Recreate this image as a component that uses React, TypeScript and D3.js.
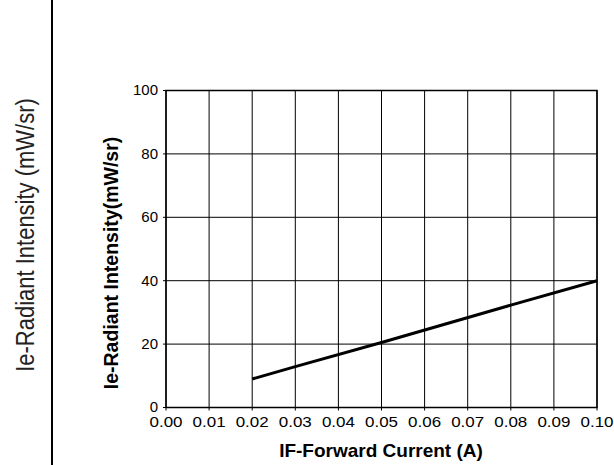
import React from "react";
import * as d3 from "d3";

const xTicks = [0, 0.01, 0.02, 0.03, 0.04, 0.05, 0.06, 0.07, 0.08, 0.09, 0.1];
const yTicks = [0, 20, 40, 60, 80, 100];
const currentA = [0.02, 0.03, 0.05, 0.08, 0.1];
const intensity = [9.0, 12.9, 20.5, 32.3, 40.0];

const W = 614;
const H = 465;
const left = 166;
const right = 597;
const top = 90.5;
const bottom = 407.5;

export default function App() {
  const x = d3.scaleLinear().domain([0, 0.1]).range([left, right]);
  const y = d3.scaleLinear().domain([0, 100]).range([bottom, top]);
  const pts = currentA.map((c, i) => [c, intensity[i]] as [number, number]);
  const line = d3
    .line<[number, number]>()
    .x((d) => x(d[0]))
    .y((d) => y(d[1]))(pts) as string;
  const font = "'Liberation Sans', Arial, Helvetica, sans-serif";
  return (
    <svg
      width={W}
      height={H}
      style={{ position: "absolute", left: 0, top: 0, background: "#fff" }}
      fontFamily={font}
    >
      <rect x={0} y={0} width={W} height={H} fill="#fff" />
      <line x1={52} x2={52} y1={0} y2={H} stroke="#000" strokeWidth={2} />
      <text
        transform={`translate(34,235) scale(1.2,1) rotate(-90)`}
        textAnchor="middle"
        fontSize={22}
        fill="#222"
      >
        Ie-Radiant Intensity (mW/sr)
      </text>
      {xTicks.map((t) => (
        <g key={"x" + t}>
          <line
            x1={x(t)}
            x2={x(t)}
            y1={top}
            y2={bottom + 3}
            stroke="#000"
            strokeWidth={1}
          />
          <text
            x={x(t)}
            y={427}
            textAnchor="middle"
            fontSize={14.5}
            textLength={33}
            lengthAdjust="spacingAndGlyphs"
            fill="#000"
          >
            {t.toFixed(2)}
          </text>
        </g>
      ))}
      {yTicks.map((t) => (
        <g key={"y" + t}>
          <line
            x1={left - 3}
            x2={right}
            y1={y(t)}
            y2={y(t)}
            stroke="#000"
            strokeWidth={1}
          />
          <text
            x={158}
            y={y(t)}
            dy="0.33em"
            textAnchor="end"
            fontSize={15}
            fill="#000"
          >
            {t}
          </text>
        </g>
      ))}
      <rect
        x={left}
        y={top}
        width={right - left}
        height={bottom - top}
        fill="none"
        stroke="#000"
        strokeWidth={1.5}
      />
      <path d={line} fill="none" stroke="#000" strokeWidth={3} />
      <text
        transform={`translate(118,263) rotate(-90)`}
        textAnchor="middle"
        fontSize={19.5}
        fontWeight="bold"
        fill="#000"
      >
        Ie-Radiant Intensity(mW/sr)
      </text>
      <text
        x={381}
        y={457}
        textAnchor="middle"
        fontSize={19}
        fontWeight="bold"
        fill="#000"
      >
        IF-Forward Current (A)
      </text>
    </svg>
  );
}
